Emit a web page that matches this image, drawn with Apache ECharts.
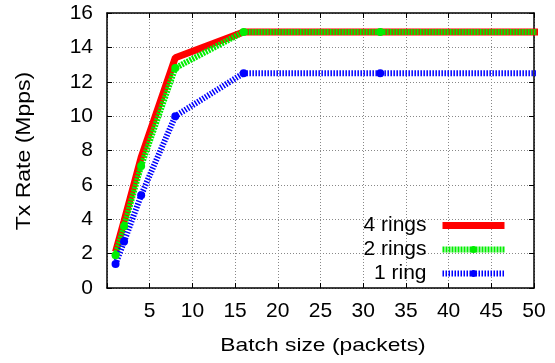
<!DOCTYPE html>
<html>
<head>
<meta charset="utf-8">
<script src="https://cdn.jsdelivr.net/npm/echarts@6/dist/echarts.min.js"></script>
<style>
  html, body { margin: 0; padding: 0; background: #fff; }
  #chart { width: 555px; height: 363px; }
</style>
</head>
<body>
<div id="chart"></div>
<script>
// Batch sizes measured (the 64 point runs past the visible range)
const batchSizes = [1, 2, 4, 8, 16, 32, 64];
const rings4 = [2.1, 3.9, 7.6, 13.4, 14.9, 14.9, 14.9];
const rings2 = [1.9, 3.6, 7.1, 12.8, 14.9, 14.9, 14.9];
const rings1 = [1.4, 2.7, 5.4, 10.0, 12.5, 12.5, 12.5];
const seriesNames = ['4 rings', '2 rings', '1 ring'];
const xTitle = 'Batch size (packets)';
const yTitle = 'Tx Rate (Mpps)';

const FONT = 'Liberation Sans';
const pairs = (ys) => batchSizes.map((x, i) => [x, ys[i]]);

const RED = '#ff0000', GREEN = '#00ee00', BLUE = '#0000ff';
const redLine = { color: RED, width: 7 };
const greenLine = { color: GREEN, width: 6, type: [2, 1], cap: 'butt' };
const blueLine = { color: BLUE, width: 6, type: [1.5, 1.5], cap: 'butt' };

const tickStyle = { inside: true, length: 5, lineStyle: { color: '#000', width: 1 } };
const gridLine = { show: true, lineStyle: { color: '#888', type: [1, 2], width: 1 } };
const frameLine = { show: true, onZero: false, lineStyle: { color: '#000', width: 1.5 } };

const chart = echarts.init(document.getElementById('chart'), null, { renderer: 'canvas' });
chart.setOption({
  animation: false,
  backgroundColor: '#fff',
  grid: { left: 107, right: 21, top: 13, bottom: 75, containLabel: false },
  legend: {
    orient: 'vertical',
    right: 47,
    top: 215,
    padding: 0,
    align: 'right',
    itemWidth: 62,
    itemHeight: 9,
    itemGap: 3,
    textStyle: { fontFamily: FONT, fontSize: 21, lineHeight: 21, color: '#000', padding: [0, 11, 0, 0] },
    data: [
      { name: seriesNames[0], lineStyle: redLine },
      { name: seriesNames[1], lineStyle: greenLine },
      { name: seriesNames[2], lineStyle: blueLine }
    ]
  },
  // axis titles, stretched slightly wider than the plain face
  graphic: [{
    type: 'text', x: 323, y: 346, scaleX: 1.2,
    style: { text: xTitle, font: '19px "Liberation Sans"', fill: '#000',
      textAlign: 'center', textVerticalAlign: 'middle' }
  }, {
    type: 'text', x: 24, y: 151, rotation: Math.PI / 2, scaleX: 1.15,
    style: { text: yTitle, font: '20px "Liberation Sans"', fill: '#000',
      textAlign: 'center', textVerticalAlign: 'middle' }
  }],
  xAxis: [{
    type: 'value', min: 0, max: 50, interval: 5,
    axisLine: frameLine,
    axisTick: tickStyle,
    axisLabel: { fontFamily: FONT, fontSize: 21, color: '#000', margin: 13,
      formatter: (v) => v === 0 ? '' : String(v) },
    splitLine: gridLine
  }, {
    type: 'value', min: 0, max: 50, interval: 5, position: 'top',
    axisLine: frameLine,
    axisTick: tickStyle, axisLabel: { show: false }, splitLine: { show: false }
  }],
  yAxis: [{
    type: 'value', min: 0, max: 16, interval: 2,
    axisLine: frameLine,
    axisTick: tickStyle,
    axisLabel: { fontFamily: FONT, fontSize: 21, color: '#000', margin: 14 },
    splitLine: gridLine
  }, {
    type: 'value', min: 0, max: 16, interval: 2, position: 'right',
    axisLine: frameLine,
    axisTick: tickStyle, axisLabel: { show: false }, splitLine: { show: false }
  }],
  series: [{
    name: seriesNames[0], type: 'line', data: pairs(rings4), clip: true,
    symbol: 'circle', showSymbol: false,
    itemStyle: { color: RED },
    lineStyle: redLine
  }, {
    name: seriesNames[1], type: 'line', data: pairs(rings2), clip: true,
    symbol: 'circle', symbolSize: 8,
    itemStyle: { color: GREEN },
    lineStyle: greenLine
  }, {
    name: seriesNames[2], type: 'line', data: pairs(rings1), clip: true,
    symbol: 'circle', symbolSize: 8,
    itemStyle: { color: BLUE },
    lineStyle: blueLine
  }]
});
</script>
</body>
</html>
